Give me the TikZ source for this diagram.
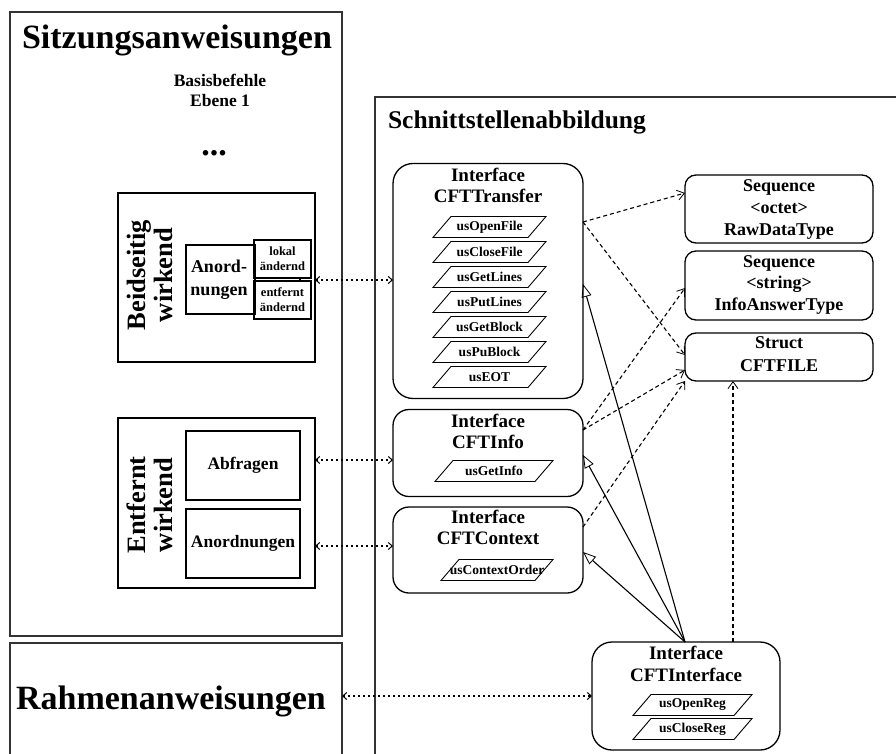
\documentclass[tikz,border=0pt]{standalone}
\usepackage{fontspec}
\setmainfont{Liberation Serif}
\usetikzlibrary{arrows.meta}
\newcommand\fsz[1]{\fontsize{#1}{#1}\selectfont\bfseries}
% operation box: a slanted parallelogram around a named text node
% #1 name, #2 x, #3 y, #4 total width, #5 text
\newcommand\opbox[5]{%
  \node[optext, minimum width=#4pt] (#1) at (#2,#3) {#5};
  \draw[opline] ([xshift=18pt]#1.north west) -- (#1.north east)
    -- ([xshift=-18pt]#1.south east) -- (#1.south west) -- cycle;}
\begin{document}
\begin{tikzpicture}[x=1pt,y=-1pt,
  every node/.style={inner sep=0pt, outer sep=0pt},
  frame/.style={draw=black!80, line width=1.6pt},
  plainbox/.style={draw, line width=1.3pt},
  iface/.style={draw, line width=1.3pt, rounded corners=20pt},
  typebox/.style={draw, line width=1.3pt, rounded corners=11pt},
  optext/.style={minimum height=21pt, font=\fsz{13.5}},
  opline/.style={line width=0.9pt, line join=miter},
  txt/.style={anchor=base},
  link/.style={line width=2pt, dash pattern=on 2pt off 3pt,
    {Straight Barb[length=4pt,width=7pt,line width=1pt]}-{Straight Barb[length=4pt,width=7pt,line width=1pt]}},
  dep/.style={line width=1.1pt, dash pattern=on 4pt off 3pt,
    -{Straight Barb[length=7pt,width=10pt,line width=0.8pt]}},
  gen/.style={line width=1.1pt, -{Triangle[open,length=13pt,width=10pt,line width=0.8pt]}},
]
\useasboundingbox (0,0) rectangle (896,754);
\clip (0,0) rectangle (896,754);

% ---------- left column: statements ----------
\node[frame, minimum width=332pt, minimum height=624pt] (sitz) at (176,324) {};
\node[txt, font=\fsz{34}] (sitztitle) at (177,49) {Sitzungsanweisungen};
\node[txt, font=\fsz{17.5}] (basis1) at (220,87) {Basisbefehle};
\node[txt, font=\fsz{17.5}] (basis2) at (220,107) {Ebene 1};
\node[txt, font=\fsz{34}] (dots) at (214,156) {...};

% two-sided commands
\node[plainbox, minimum width=197pt, minimum height=169pt] (beid) at (216.5,277.5) {};
\node[rotate=90, align=center, font=\fontsize{26.5}{27}\selectfont\bfseries] (beidtxt) at (150,275) {Beidseitig\\wirkend};
\node[plainbox, minimum width=69pt, minimum height=69pt] (anord1) at (220.5,279.5) {};
\node[align=center, font=\fontsize{18}{23}\selectfont\bfseries] (anord1txt) at (219,280) {Anord-\\nungen};
\node[plainbox, minimum width=57pt, minimum height=38pt, align=center,
  font=\fontsize{12.5}{16}\selectfont\bfseries] (lokal) at (282.5,259) {lokal\\[-1pt]ändernd};
\node[plainbox, minimum width=57pt, minimum height=38pt, align=center,
  font=\fontsize{12.5}{16}\selectfont\bfseries] (entf) at (282.5,300) {entfernt\\[-1pt]ändernd};
\draw[line width=1.3pt] (lokal.south -| 300,0) -- (entf.north -| 300,0);

% remote commands
\node[plainbox, minimum width=197pt, minimum height=170pt] (entw) at (216.5,503) {};
\node[rotate=90, align=center, font=\fontsize{26.5}{27}\selectfont\bfseries] (entwtxt) at (150,505) {Entfernt\\wirkend};
\node[plainbox, minimum width=114pt, minimum height=69pt, font=\fsz{17.5}] (abfr) at (243,465.5) {Abfragen};
\node[plainbox, minimum width=114pt, minimum height=69pt, font=\fsz{17.5}] (anord2) at (243,543.5) {Anordnungen};

% frame statements
\node[frame, minimum width=332pt, minimum height=114pt] (rahmen) at (176,700) {};
\node[txt, font=\fsz{34}] (rahmentxt) at (171,709) {Rahmenanweisungen};

% ---------- right side: interface mapping ----------
\node[frame, minimum width=560pt, minimum height=700pt] (schnitt) at (655,447) {};
\node[txt, anchor=base west, font=\fsz{25.5}] (schnitttxt) at (388,129) {Schnittstellenabbildung};

% CFTTransfer
\node[iface, minimum width=190pt, minimum height=235pt] (transfer) at (488,281) {};
\node[txt, font=\fsz{19}] (transfer1) at (488,182) {Interface};
\node[txt, font=\fsz{19}] (transfer2) at (488,203) {CFTTransfer};
\opbox{op1}{489.5}{227}{113}{usOpenFile}
\opbox{op2}{489.5}{252}{113}{usCloseFile}
\opbox{op3}{489.5}{277}{113}{usGetLines}
\opbox{op4}{489.5}{302}{113}{usPutLines}
\opbox{op5}{489.5}{327}{113}{usGetBlock}
\opbox{op6}{489.5}{352}{113}{usPuBlock}
\opbox{op7}{489.5}{377}{113}{usEOT}

% CFTInfo
\node[iface, rounded corners=16pt, minimum width=190pt, minimum height=87pt] (info) at (488,453) {};
\node[txt, font=\fsz{19}] (info1) at (488,427) {Interface};
\node[txt, font=\fsz{19}] (info2) at (488,448) {CFTInfo};
\opbox{op8}{494}{471}{118}{usGetInfo}

% CFTContext
\node[iface, rounded corners=16pt, minimum width=190pt, minimum height=86pt] (context) at (488,550) {};
\node[txt, font=\fsz{19}] (context1) at (488,523) {Interface};
\node[txt, font=\fsz{19}] (context2) at (488,544) {CFTContext};
\opbox{op9}{497}{570}{112}{usContextOrder}

% CFTInterface
\node[iface, minimum width=188pt, minimum height=108pt] (cftint) at (686,696) {};
\node[txt, font=\fsz{19}] (cftint1) at (686,659) {Interface};
\node[txt, font=\fsz{19}] (cftint2) at (686,681) {CFTInterface};
\opbox{op10}{692.5}{705}{119}{usOpenReg}
\opbox{op11}{692.5}{729}{119}{usCloseReg}

% data types
\node[typebox, minimum width=188pt, minimum height=68pt] (raw) at (779,209) {};
\node[txt, font=\fsz{18}] (raw1) at (779,192) {Sequence};
\node[txt, font=\fsz{18}] (raw2) at (779,213) {<octet>};
\node[txt, font=\fsz{18}] (raw3) at (779,235) {RawDataType};
\node[typebox, minimum width=188pt, minimum height=69pt] (answer) at (779,285.5) {};
\node[txt, font=\fsz{18}] (answer1) at (779,267) {Sequence};
\node[txt, font=\fsz{18}] (answer2) at (779,288) {<string>};
\node[txt, font=\fsz{18}] (answer3) at (779,310) {InfoAnswerType};
\node[typebox, minimum width=188pt, minimum height=48pt] (cftfile) at (779,357) {};
\node[txt, font=\fsz{18}] (cftfile1) at (779,348) {Struct};
\node[txt, font=\fsz{18}] (cftfile2) at (779,371) {CFTFILE};

% ---------- connectors ----------
\draw[link] (beid.east |- 0,280) -- (transfer.west |- 0,280);
\draw[link] (entw.east |- 0,460) -- (info.west |- 0,460);
\draw[link] (entw.east |- 0,546) -- (context.west |- 0,546);
\draw[link] (rahmen.east |- 0,696) -- (cftint.west);

\draw[dep] (transfer.east |- 0,222) -- (raw.west |- 0,193);
\draw[dep] (transfer.east |- 0,222) -- (cftfile.west |- 0,355);
\draw[dep] (info.east |- 0,430) -- (answer.west |- 0,288);
\draw[dep] (info.east |- 0,430) -- (cftfile.west |- 0,370);
\draw[dep] (context.east |- 0,527) -- (cftfile.south west);
\draw[dep] (cftint.north -| 733,0) -- (cftfile.south -| 733,0);

\draw[gen] (cftint.north -| 685,0) -- (transfer.east |- 0,284);
\draw[gen] (cftint.north -| 685,0) -- (info.east |- 0,455);
\draw[gen] (cftint.north -| 685,0) -- (context.east |- 0,552);
\end{tikzpicture}
\end{document}
